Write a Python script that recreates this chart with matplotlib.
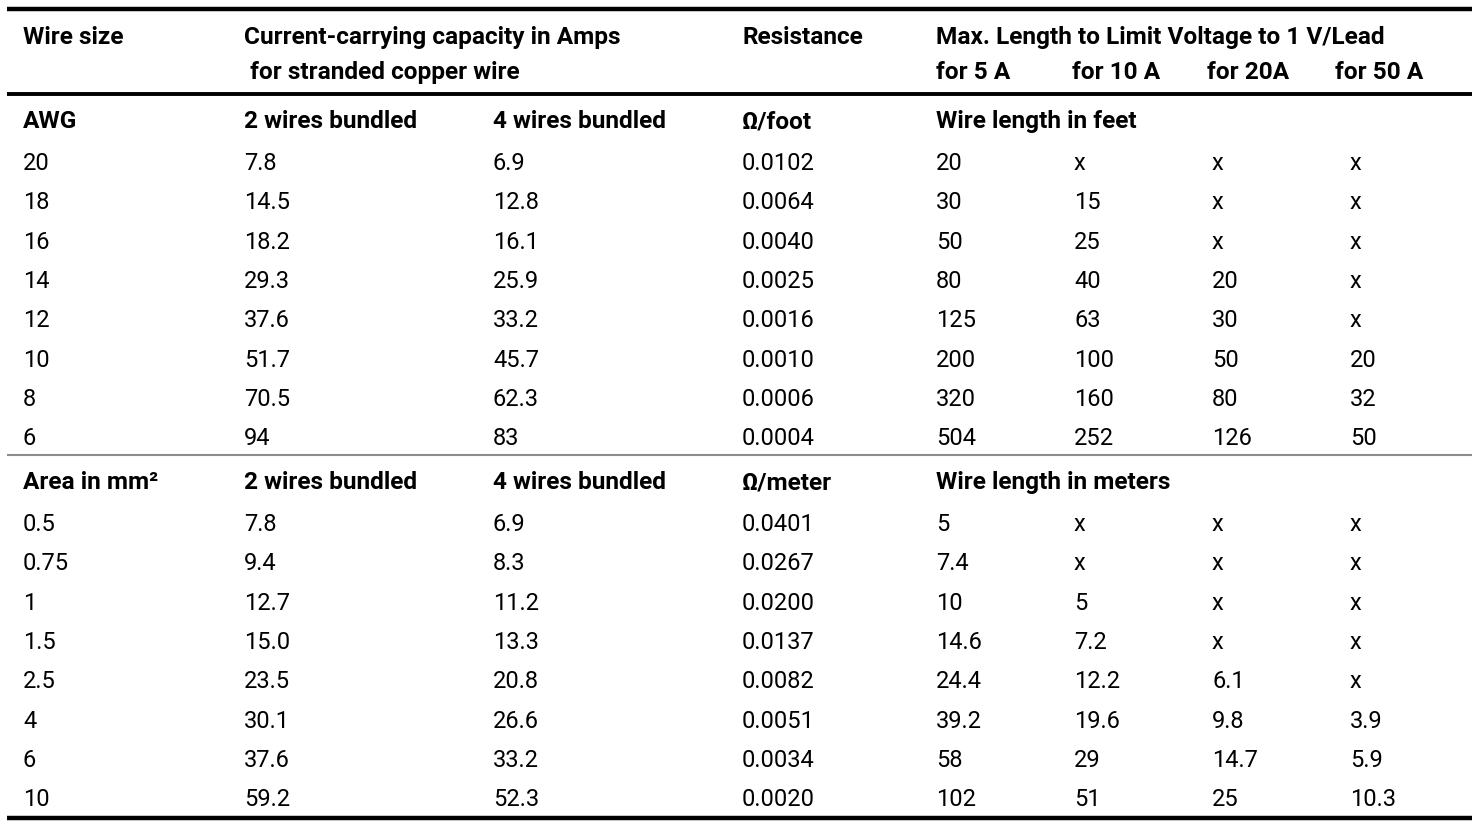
import matplotlib
matplotlib.use('Agg')
import matplotlib.pyplot as plt
from matplotlib import font_manager

# Roboto is close in width to the original condensed face
names = {f.name for f in font_manager.fontManager.ttflist}
fam = [n for n in ['Roboto', 'Liberation Sans', 'DejaVu Sans'] if n in names]
plt.rcParams['font.family'] = fam

# header texts
head_top = ['Wire size', 'Current-carrying capacity in Amps', 'Resistance',
            'Max. Length to Limit Voltage to 1 V/Lead']
head_sub = [' for stranded copper wire', 'for 5 A', 'for 10 A', 'for 20A', 'for 50 A']

# AWG block
awg_head = ['AWG', '2 wires bundled', '4 wires bundled', '\u03a9/foot', 'Wire length in feet']
awg = ['20', '18', '16', '14', '12', '10', '8', '6']
awg_2w = ['7.8', '14.5', '18.2', '29.3', '37.6', '51.7', '70.5', '94']
awg_4w = ['6.9', '12.8', '16.1', '25.9', '33.2', '45.7', '62.3', '83']
ohm_ft = ['0.0102', '0.0064', '0.0040', '0.0025', '0.0016', '0.0010', '0.0006', '0.0004']
ft_5a = ['20', '30', '50', '80', '125', '200', '320', '504']
ft_10a = ['x', '15', '25', '40', '63', '100', '160', '252']
ft_20a = ['x', 'x', 'x', '20', '30', '50', '80', '126']
ft_50a = ['x', 'x', 'x', 'x', 'x', '20', '32', '50']

# metric block
mm_head = ['Area in mm\u00b2', '2 wires bundled', '4 wires bundled', '\u03a9/meter', 'Wire length in meters']
mm2 = ['0.5', '0.75', '1', '1.5', '2.5', '4', '6', '10']
mm_2w = ['7.8', '9.4', '12.7', '15.0', '23.5', '30.1', '37.6', '59.2']
mm_4w = ['6.9', '8.3', '11.2', '13.3', '20.8', '26.6', '33.2', '52.3']
ohm_m = ['0.0401', '0.0267', '0.0200', '0.0137', '0.0082', '0.0051', '0.0034', '0.0020']
m_5a = ['5', '7.4', '10', '14.6', '24.4', '39.2', '58', '102']
m_10a = ['x', 'x', '5', '7.2', '12.2', '19.6', '29', '51']
m_20a = ['x', 'x', 'x', 'x', '6.1', '9.8', '14.7', '25']
m_50a = ['x', 'x', 'x', 'x', 'x', '3.9', '5.9', '10.3']

W, H = 1476, 823
fig = plt.figure(figsize=(W / 100, H / 100), dpi=100)
ax = fig.add_axes([0, 0, 1, 1])
ax.set_xlim(0, W)
ax.set_ylim(H, 0)
ax.axis('off')

fs = 17
colx = [23, 244, 493, 742, 936, 1074, 1212, 1350]
subx = [244, 936, 1072, 1207, 1335]
step = 39.3

def txt(x, y, s, bold=False):
    ax.text(x, y, s, fontsize=fs + 0.6 if bold else fs,
            fontweight='bold' if bold else 'normal',
            ha='left', va='baseline', color='black')

for x, s in zip([23, 244, 742, 936], head_top):
    txt(x, 44, s, True)
for x, s in zip(subx, head_sub):
    txt(x, 79, s, True)

def block(y0, head, cols):
    for x, s in zip([23, 244, 493, 742, 936], head):
        txt(x, y0, s, True)
    for i in range(len(cols[0])):
        y = y0 + 42 + i * step
        for x, c in zip(colx, cols):
            txt(x, y, c[i])

block(128, awg_head, [awg, awg_2w, awg_4w, ohm_ft, ft_5a, ft_10a, ft_20a, ft_50a])
block(489, mm_head, [mm2, mm_2w, mm_4w, ohm_m, m_5a, m_10a, m_20a, m_50a])

ax.plot([7, 1472], [9, 9], color='black', lw=3.2, solid_capstyle='butt')
ax.plot([7, 1472], [94, 94], color='black', lw=2.8, solid_capstyle='butt')
ax.plot([7, 1472], [454.5, 454.5], color='#8c8c8c', lw=1.5, solid_capstyle='butt')
ax.plot([7, 1472], [817.5, 817.5], color='black', lw=3.2, solid_capstyle='butt')

fig.savefig('out.png', dpi=100)
